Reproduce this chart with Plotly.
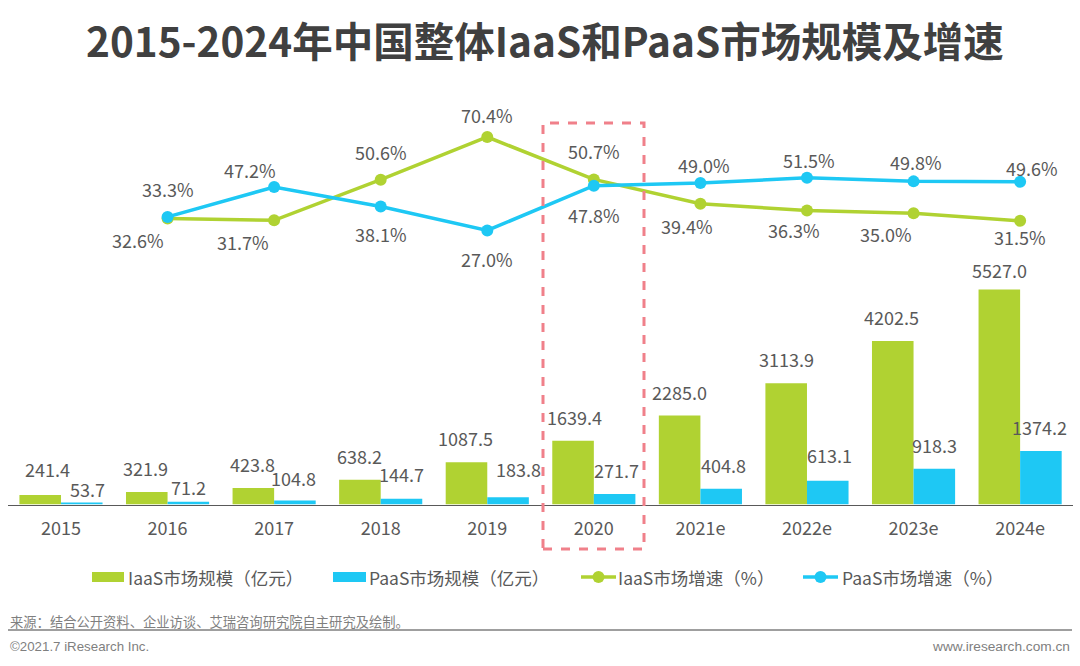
"""2015-2024 China IaaS and PaaS market size and growth"""

import plotly.graph_objects as go

YEARS = ["2015", "2016", "2017", "2018", "2019", "2020", "2021e", "2022e", "2023e", "2024e"]
IAAS_SIZE = [241.4, 321.9, 423.8, 638.2, 1087.5, 1639.4, 2285.0, 3113.9, 4202.5, 5527.0]
PAAS_SIZE = [53.7, 71.2, 104.8, 144.7, 183.8, 271.7, 404.8, 613.1, 918.3, 1374.2]
# growth starts one year later than size
GROWTH_YEARS = YEARS[1:]
IAAS_GROWTH = [32.6, 31.7, 50.6, 70.4, 50.7, 39.4, 36.3, 35.0, 31.5]
PAAS_GROWTH = [33.3, 47.2, 38.1, 27.0, 47.8, 49.0, 51.5, 49.8, 49.6]
LEGEND_NAMES = ["IaaS市场规模（亿元）", "PaaS市场规模（亿元）", "IaaS市场增速（%）", "PaaS市场增速（%）"]

GREEN = "#b0d232"
BLUE = "#1ec8f4"
LABEL = "#595959"
FOOT = "#7f7f7f"
FONT = "Noto Sans CJK SC"
W, H = 1080, 666


def px(x):
    return x / W


def py(y):
    return 1 - y / H


fig = go.Figure()
fig.add_bar(x=YEARS, y=IAAS_SIZE, name=LEGEND_NAMES[0], marker_color=GREEN, marker_line_width=0)
fig.add_bar(x=YEARS, y=PAAS_SIZE, name=LEGEND_NAMES[1], marker_color=BLUE, marker_line_width=0)
fig.add_scatter(
    x=GROWTH_YEARS, y=IAAS_GROWTH, name=LEGEND_NAMES[2], yaxis="y2", mode="lines+markers",
    line=dict(color=GREEN, width=3.5), marker=dict(color=GREEN, size=12),
)
fig.add_scatter(
    x=GROWTH_YEARS, y=PAAS_GROWTH, name=LEGEND_NAMES[3], yaxis="y2", mode="lines+markers",
    line=dict(color=BLUE, width=3.5), marker=dict(color=BLUE, size=12),
)

# label nudges, px from the default spot
iaas_dx = [7, -1, -1, 0, -1, 1, 0, 0, -1, 0]
iaas_dy = [2, 0, 0, 0, 0, 0, 0, 0, 0, -4]
paas_dx = [6, 0, -1, 0, 10, 2, 2, 2, 0, -1]
paas_dy = [-11, -9, -2, 1, 4, 0, 0, 2, 0, 0]
annotations = []
# numeric-looking categories must be given by index, or plotly reads them as numbers
for i in range(len(YEARS)):
    annotations.append(dict(x=i, y=IAAS_SIZE[i], text=f"{IAAS_SIZE[i]:.1f}", xshift=-20.75 + iaas_dx[i], yshift=24 + iaas_dy[i]))
    annotations.append(dict(x=i, y=PAAS_SIZE[i], text=f"{PAAS_SIZE[i]:.1f}", xshift=20.75 + paas_dx[i], yshift=24 + paas_dy[i]))

iaas_growth_dx = [-30, -31, 0, 0, 0, -13, -13, -28, 0]
iaas_growth_dy = [-22, -22, 28, 22, 28, -22, -20, -21, -16]
paas_growth_dx = [0, -24, 0, 0, 0, 4, 2, 2, 12]
paas_growth_dy = [28, 17, -27, -29, -29, 18, 18, 19, 14]
for i in range(len(GROWTH_YEARS)):
    annotations.append(dict(x=i + 1, y=IAAS_GROWTH[i], yref="y2", text=f"{IAAS_GROWTH[i]:.1f}%", xshift=iaas_growth_dx[i], yshift=iaas_growth_dy[i]))
    annotations.append(dict(x=i + 1, y=PAAS_GROWTH[i], yref="y2", text=f"{PAAS_GROWTH[i]:.1f}%", xshift=paas_growth_dx[i], yshift=paas_growth_dy[i]))
for a in annotations:
    a.update(showarrow=False, xanchor="center", yanchor="middle", font=dict(size=18, color=LABEL, family=FONT))


def page_text(x, y, text, size, color=LABEL, family=FONT, anchor="left"):
    return dict(x=px(x), y=py(y), xref="paper", yref="paper", xanchor=anchor, yanchor="middle",
                showarrow=False, text=text, font=dict(size=size, color=color, family=family))


annotations += [
    page_text(545, 40, "<b>2015-2024年中国整体IaaS和PaaS市场规模及增速</b>", 40.5, "#404040", anchor="center"),
    page_text(8, 621, "来源：结合公开资料、企业访谈、艾瑞咨询研究院自主研究及绘制。", 13.3, FOOT),
    page_text(8, 646, "©2021.7 iResearch Inc.", 13.3, FOOT, "Liberation Sans"),
    page_text(1072, 646, "www.iresearch.com.cn", 13.7, FOOT, "Liberation Sans", anchor="right"),
    page_text(126, 577, LEGEND_NAMES[0], 17.5),
    page_text(367, 577, LEGEND_NAMES[1], 17.5),
    page_text(616, 577, LEGEND_NAMES[2], 17.5),
    page_text(840, 577, LEGEND_NAMES[3], 17.5),
]


def page_shape(kind, x0, x1, y0, y1, **kw):
    return dict(type=kind, xref="paper", yref="paper", x0=px(x0), x1=px(x1), y0=py(y0), y1=py(y1), **kw)


shapes = [
    page_shape("rect", 543, 644, 549, 123, line=dict(color="#f0808a", width=3, dash="dash")),
    page_shape("line", 8, 1072, 630, 630, line=dict(color=FOOT, width=1.5)),
    # legend keys, the bar keys are wider than plotly's own legend allows
    page_shape("rect", 92, 124, 572, 582, fillcolor=GREEN, line_width=0),
    page_shape("rect", 333, 366, 572, 582, fillcolor=BLUE, line_width=0),
    page_shape("line", 581, 616, 577, 577, line=dict(color=GREEN, width=3.5)),
    page_shape("circle", 592.5, 604.5, 571, 583, fillcolor=GREEN, line_width=0),
    page_shape("line", 803, 838, 577, 577, line=dict(color=BLUE, width=3.5)),
    page_shape("circle", 814.5, 826.5, 571, 583, fillcolor=BLUE, line_width=0),
]

fig.update_layout(
    width=W, height=H, margin=dict(l=0, r=0, t=0, b=0),
    paper_bgcolor="white", plot_bgcolor="white",
    barmode="group", bargap=0.22, bargroupgap=0, showlegend=False,
    annotations=annotations, shapes=shapes,
    font=dict(family=FONT, color=LABEL),
    xaxis=dict(type="category", categoryorder="array", categoryarray=YEARS, range=[-0.5, 9.5],
               domain=[px(7.7), px(1073.4)], showgrid=False, showline=True, linecolor="#595959",
               linewidth=1, ticks="", ticklabelstandoff=8, tickfont=dict(size=18, color=LABEL), anchor="y"),
    yaxis=dict(domain=[py(504.5), py(100)], range=[0, 404.5 / 0.0389], visible=False, showgrid=False),
    yaxis2=dict(domain=[py(504.5), py(100)], range=[70.4 - 367.5 / 2.154, 70.4 + 37 / 2.154],
                overlaying="y", visible=False, showgrid=False),
)

# the page's default body margin would push the chart 8px off
fig.write_html("out.html", post_script="document.body.style.margin='0';", config={"displayModeBar": False})
